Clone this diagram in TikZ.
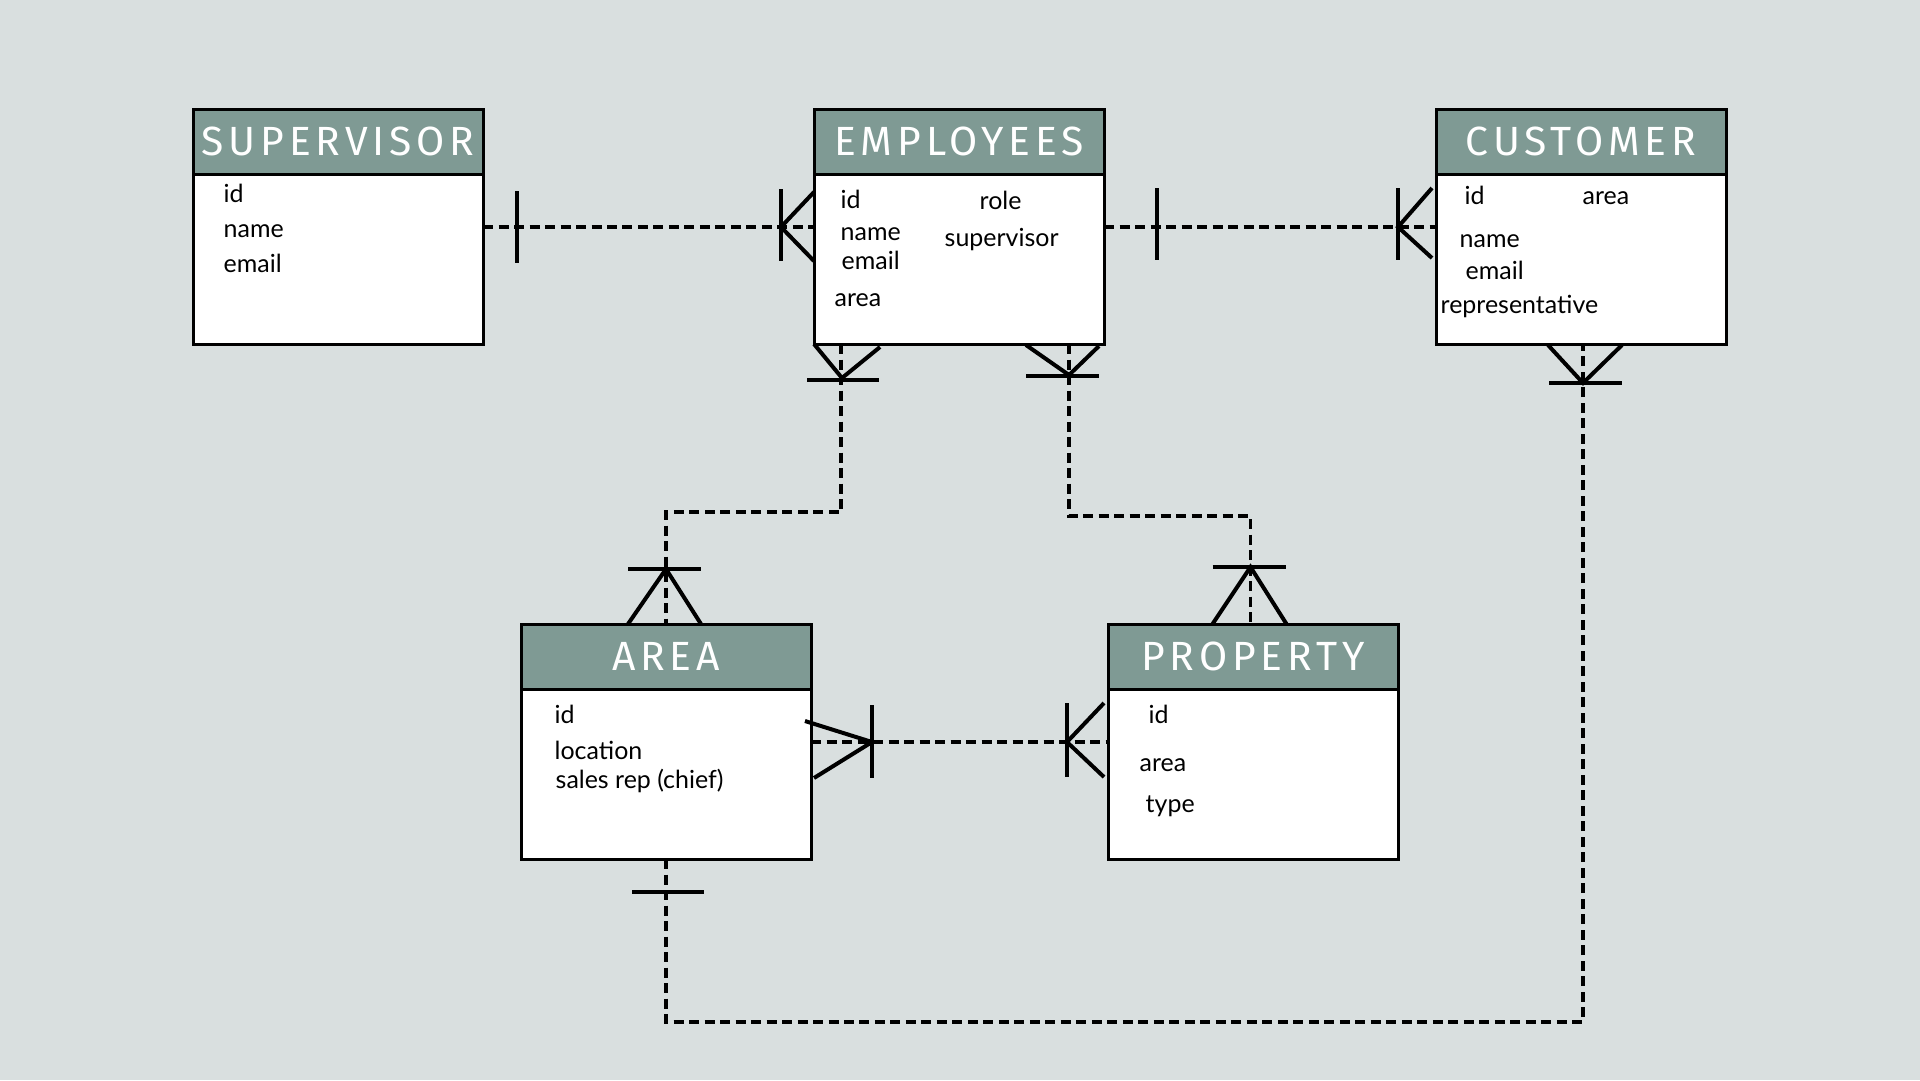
\documentclass[tikz,border=0pt]{standalone}
\usepackage{fontspec}
\newfontfamily\hfont[LetterSpace=12]{Fira Sans}
\newfontfamily\afont{Lato}
\usetikzlibrary{positioning}
\definecolor{bgc}{RGB}{217,223,223}
\definecolor{hdc}{RGB}{127,154,148}

\begin{document}
\begin{tikzpicture}[x=0.1mm, y=-0.1mm,
    hd/.style={draw, fill=hdc, text=white, line width=0.3mm, minimum width=29mm, minimum height=6.5mm,
        inner sep=0pt, outer sep=0pt, anchor=north west, font=\hfont\fontsize{11.6}{12}\selectfont},
    bd/.style={draw, fill=white, line width=0.3mm, minimum width=29mm, minimum height=17mm,
        inner sep=0pt, outer sep=0pt},
    attr/.style={anchor=base west, inner sep=0pt, font=\afont\fontsize{7.1}{8}\selectfont},
    rel/.style={line width=0.38mm, dash pattern=on 1mm off 0.55mm},
    crow/.style={line width=0.4mm}]
    % Background
    \fill[bgc] (0,0) rectangle (1920,1080);

    % Supervisor
    \node[hd] (sup) at (193,109) {SUPERVISOR};
    \node[bd, below=0pt of sup] (supb) {};
    \node[attr] (sup-id) at (223,202) {id};
    \node[attr] (sup-name) at (223,237) {name};
    \node[attr] (sup-email) at (223,272) {email};

    % Employees
    \node[hd] (emp) at (814,109) {EMPLOYEES};
    \node[bd, below=0pt of emp] (empb) {};
    \node[attr] (emp-id) at (840,208) {id};
    \node[attr] (emp-name) at (840,240) {name};
    \node[attr] (emp-email) at (841,269) {email};
    \node[attr] (emp-area) at (834,306) {area};
    \node[attr] (emp-role) at (979,209) {role};
    \node[attr] (emp-sup) at (944,246) {supervisor};

    % Customer
    \node[hd] (cus) at (1436,109) {CUSTOMER};
    \node[bd, below=0pt of cus] (cusb) {};
    \node[attr] (cus-id) at (1464,204) {id};
    \node[attr] (cus-area) at (1582,204) {area};
    \node[attr] (cus-name) at (1459,247) {name};
    \node[attr] (cus-email) at (1465,279) {email};
    \node[attr] (cus-rep) at (1440,313) {representative};

    % Area
    \node[hd] (area) at (521,624) {AREA};
    \node[bd, below=0pt of area] (areab) {};
    \node[attr] (area-id) at (554,723) {id};
    \node[attr] (area-loc) at (554,759) {location};
    \node[attr] (area-rep) at (555,788) {sales rep (chief)};

    % Property
    \node[hd] (prop) at (1108,624) {PROPERTY};
    \node[bd, below=0pt of prop] (propb) {};
    \node[attr] (prop-id) at (1148,723) {id};
    \node[attr] (prop-area) at (1139,771) {area};
    \node[attr] (prop-type) at (1145,812) {type};

    % Connector ends
    \coordinate (s1) at ([yshift=3.2mm]supb.east);
    \coordinate (e1) at ([yshift=3.2mm]empb.west);
    \coordinate (e2) at ([yshift=3.2mm]empb.east);
    \coordinate (c1) at ([yshift=3.2mm]cusb.west);
    \coordinate (e3) at ([xshift=2.7mm]empb.south west);
    \coordinate (e4) at ([xshift=-3.5mm]empb.south east);
    \coordinate (a1) at (area.north);
    \coordinate (p1) at ([xshift=-0.25mm]prop.north);
    \coordinate (a2) at ([yshift=3.2mm]areab.east);
    \coordinate (p2) at ([yshift=3.2mm]propb.west);
    \coordinate (a3) at (areab.south);
    \coordinate (c2) at ([xshift=0.2mm]cusb.south);

    % Relations
    \draw[rel] (s1) -- (e1);
    \draw[rel] (e2) -- (c1);
    \draw[rel] (e3) -- ++(0,168) -| (a1);
    \draw[rel] (e4) -- ++(0,172) -| (p1);
    \draw[rel] (a2) -- (p2);
    \draw[rel] (a3) -- ++(0,163) -| (c2);

    % Supervisor - Employees
    \draw[crow] ([shift={(34,-36)}]s1) -- ++(0,72);
    \draw[crow] ([shift={(-33,-38)}]e1) -- ++(0,72);
    \draw[crow] ([shift={(0,-35)}]e1) -- ++(-33,35) -- ++(33,34);

    % Employees - Customer
    \draw[crow] ([shift={(53,-39)}]e2) -- ++(0,72);
    \draw[crow] ([shift={(-38,-39)}]c1) -- ++(0,72);
    \draw[crow] ([shift={(-4,-39)}]c1) -- ++(-34,39) -- ++(34,31);

    % Employees - Area
    \draw[crow] ([shift={(-34,36)}]e3) -- ++(72,0);
    \draw[crow] ([shift={(-27,0)}]e3) -- ++(28,34) -- ++(38,-31);
    \draw[crow] ([shift={(-38,-55)}]a1) -- ++(73,0);
    \draw[crow] ([shift={(-38,0)}]a1) -- ++(38,-55) -- ++(35,55);

    % Employees - Property
    \draw[crow] ([shift={(-43,32)}]e4) -- ++(73,0);
    \draw[crow] ([shift={(-43,1)}]e4) -- ++(43,30) -- ++(30,-29);
    \draw[crow] ([shift={(-38,-57)}]p1) -- ++(73,0);
    \draw[crow] ([shift={(-38,0)}]p1) -- ++(38,-57) -- ++(36,57);

    % Area - Property
    \draw[crow] ([shift={(61,-37)}]a2) -- ++(0,73);
    \draw[crow] ([shift={(-6,-21)}]a2) -- ++(67,21) -- ++(-58,36);
    \draw[crow] ([shift={(-41,-39)}]p2) -- ++(0,74);
    \draw[crow] ([shift={(-4,-39)}]p2) -- ++(-37,39) -- ++(37,35);

    % Area - Customer
    \draw[crow] ([shift={(-34,33)}]a3) -- ++(72,0);
    \draw[crow] ([shift={(-34,39)}]c2) -- ++(73,0);
    \draw[crow] ([shift={(-35,1)}]c2) -- ++(35,38) -- ++(39,-38);
\end{tikzpicture}
\end{document}
